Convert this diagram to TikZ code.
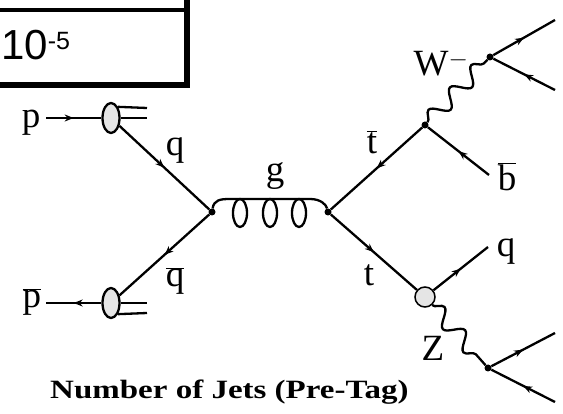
\documentclass[tikz,border=0pt]{standalone}
\usepackage{fontspec}
\setmainfont{Liberation Serif}
\newfontfamily\arialfont{Liberation Sans}
\usetikzlibrary{arrows.meta,decorations.pathmorphing,decorations.markings,shapes.geometric}

\tikzset{
    fermion/.style={line width=2.3pt, postaction={decorate},
        decoration={markings, mark=at position 0.5 with {\arrow{Stealth[length=9pt,width=7pt]}}}},
    plain/.style={line width=2.3pt},
    boson/.style={line width=2.3pt, decorate,
        decoration={snake, amplitude=8pt, segment length=31pt}},
    vertex/.style={circle, fill=black, inner sep=0pt, minimum size=7pt},
    hadron/.style={ellipse, draw, line width=2.3pt, fill=gray!20, inner sep=0pt,
        minimum width=17pt, minimum height=30pt},
    lbl/.style={font=\fontsize{37}{37}\selectfont, inner sep=0pt},
}
\newcommand{\barred}[1]{\(\overline{\mbox{#1}}\)}

\begin{document}
\begin{tikzpicture}[x=1pt, y=-1pt]
\useasboundingbox (0,0) rectangle (563,414);

% table cell
\draw [line width=3.5pt] (0,10) -- (187,10);
\draw [line width=5.5pt, line join=miter] (0,85) -- (187,85) -- (187,0);
\node (ratio) [
    anchor=base west,
    inner sep=0pt,
    font=\arialfont\fontsize{42}{42}\selectfont
] at (1,60) {10\raisebox{10pt}{\fontsize{25}{25}\selectfont -5}};

% incoming hadrons
\node (blobp) [hadron] at (111,118) {};
\node (blobpbar) [hadron] at (111,303) {};
\coordinate (pin) at (46,118);
\coordinate (pbarout) at (46,303);
\coordinate (rem1) at (147,108);
\coordinate (rem2) at (147,118);
\coordinate (rem3) at (147,303);
\coordinate (rem4) at (147,313);

\node (vq) [vertex] at (212,212) {};
\node (vg) [vertex] at (328,212) {};
\node (vw) [vertex] at (425,125) {};
\node (vwd) [vertex] at (490,57) {};
\node (blobz) [circle, draw, line width=1.5pt, fill=gray!20, minimum size=20pt, inner sep=0pt] at (425,297) {};
\node (vzd) [vertex] at (488,368) {};

\coordinate (wout1) at (555,20);
\coordinate (wout2) at (555,90);
\coordinate (bbar) at (489,175);
\coordinate (qout) at (488,247);
\coordinate (zout1) at (555,333);
\coordinate (zout2) at (555,402);

\draw [fermion] (pin) -- (blobp.west);
\draw [fermion] (blobpbar.west) -- (pbarout);
\draw [plain] (blobp.58) -- (rem1);
\draw [plain] (blobp.east) -- (rem2);
\draw [plain] (blobpbar.east) -- (rem3);
\draw [plain] (blobpbar.-58) -- (rem4);

\draw [fermion] (blobp) -- (vq);
\draw [fermion] (vq) -- (blobpbar);

% gluon
\draw [plain] (vq) .. controls (214,200) and (220,199) .. (230,199) -- (310,199)
    .. controls (320,199) and (326,204) .. (vg);
\foreach \x in {240,270,299}
    \draw [line width=2.3pt] (\x,213) ellipse (7pt and 14pt);

% tbar side
\draw [fermion] (vw) -- (vg);
\draw [fermion] (bbar) -- (vw);
\draw [boson] (vw) -- (vwd);
\draw [fermion] (vwd) -- (wout1);
\draw [fermion] (wout2) -- (vwd);

% t side
\draw [fermion] (vg) -- (blobz);
\draw [fermion] (blobz) -- (qout);
\draw [boson] (blobz) -- (vzd);
\draw [fermion] (vzd) -- (zout1);
\draw [fermion] (zout2) -- (vzd);

% labels
\node (lp) [lbl] at (31,123) {p};
\node (lpbar) [lbl] at (32,302) {\barred{p}};
\node (lq) [lbl] at (175,151) {q};
\node (lqbar) [lbl] at (175,281) {\barred{q}};
\node (lg) [lbl] at (275,176) {g};
\node (ltbar) [lbl] at (372,142) {\barred{t}};
\node (lbbar) [lbl] at (507,177) {\barred{b}};
\node (lw) [lbl] at (441,64) {W\(^-\)};
\node (lt) [lbl] at (369,275) {t};
\node (lqout) [lbl] at (506,252) {q};
\node (lz) [lbl] at (433,348) {Z};

\node (title) [
    anchor=base west,
    inner sep=0pt,
    font=\bfseries\fontsize{33}{33}\selectfont
] at (50,399) {\scalebox{1}[0.8]{Number of Jets (Pre-Tag)}};

\end{tikzpicture}
\end{document}
